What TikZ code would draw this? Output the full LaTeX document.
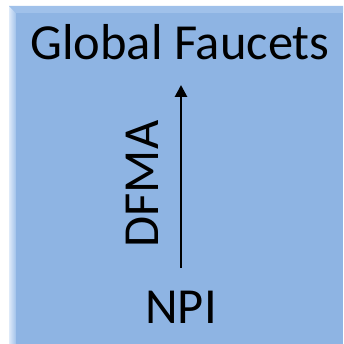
\documentclass[tikz,border=0pt]{standalone}
\usepackage{fontspec}
\setmainfont{Carlito}
\usetikzlibrary{arrows.meta}
\definecolor{panelblue}{RGB}{142,180,227}
\definecolor{bevellight}{RGB}{222,234,249}
\definecolor{bevelmid}{RGB}{160,193,234}
\definecolor{beveltop}{RGB}{160,193,234}
\tikzset{
  label text/.style={font=\fontsize{50.5}{54}\selectfont, text=black, inner sep=0pt},
  flow arrow/.style={line width=2.7pt, -{Triangle[width=12pt,length=12pt]}},
}
\begin{document}
\begin{tikzpicture}[x=1pt,y=1pt]
\useasboundingbox (0,0) rectangle (343,344);
\fill[white] (0,0) rectangle (343,344);
% panel with bevelled left and top edges
\fill[panelblue] (9,0) rectangle (343,338);
\shade[left color=bevellight, right color=bevelmid] (9,0) -- (9,338) -- (16,331) -- (16,0) -- cycle;
\fill[beveltop] (9,338) -- (343,338) -- (343,331) -- (16,331) -- cycle;
% labels
\node[label text, anchor=base] (top) at (180,284) {Global Faucets};
\node[label text, anchor=base] (npi) at (181,20) {NPI};
\node[label text, anchor=base, rotate=90] (dfma) at (158,160) {DFMA};
% arrow from NPI up to Global Faucets
\coordinate (tail) at (181,76);
\coordinate (tip) at (181,259);
\draw[flow arrow] (tail) -- (tip);
\end{tikzpicture}
\end{document}
